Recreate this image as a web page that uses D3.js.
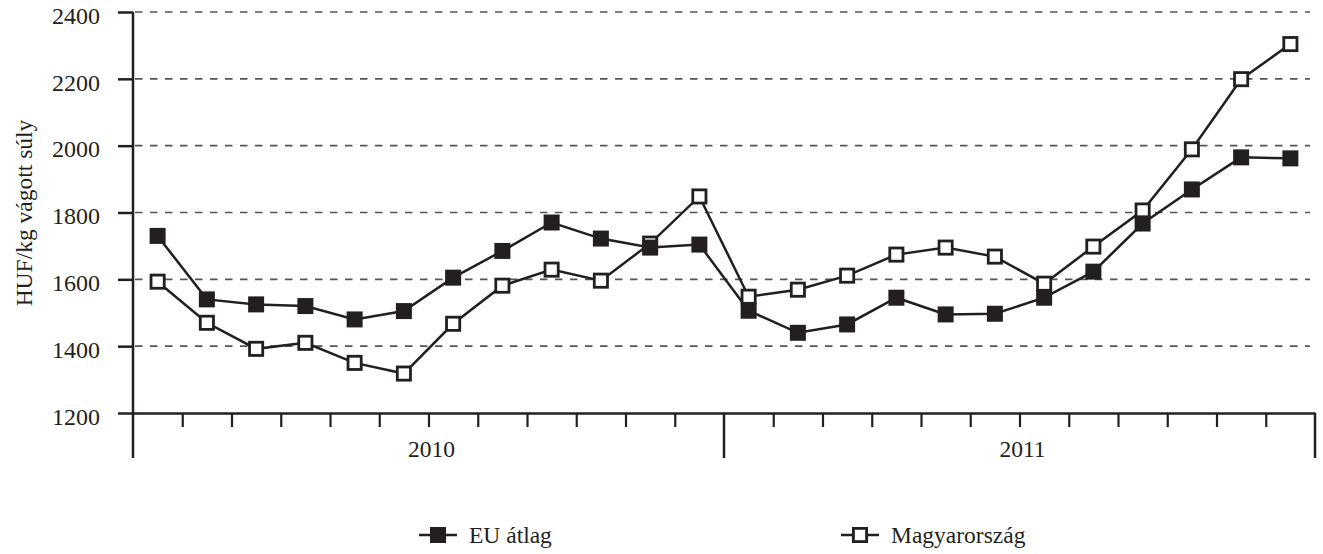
<!DOCTYPE html>
<html>
<head>
<meta charset="utf-8">
<script src="https://cdn.jsdelivr.net/npm/d3@7"></script>
<style>
  body { margin: 0; background: #fff; }
  svg text { font-family: "Liberation Serif", "Times New Roman", serif; fill: #231f20; }
</style>
</head>
<body>
<div id="chart"></div>
<script>
// Data (monthly, 2010-2011)
var years = ["2010", "2011"];
var months = ["01","02","03","04","05","06","07","08","09","10","11","12"];
var euAtlag = [1730, 1540, 1525, 1520, 1480, 1505, 1605, 1685, 1770, 1722, 1695, 1704,
               1506, 1440, 1465, 1545, 1495, 1497, 1545, 1623, 1767, 1869, 1965, 1962];
var magyarorszag = [1593, 1470, 1392, 1410, 1350, 1318, 1467, 1581, 1629, 1596, 1707, 1848,
                    1548, 1569, 1611, 1674, 1695, 1668, 1587, 1698, 1806, 1989, 2199, 2304];
var yTicks = [1200, 1400, 1600, 1800, 2000, 2200, 2400];
var yLabel = "HUF/kg vágott súly";
var seriesNames = ["EU átlag", "Magyarország"];

var width = 1323, height = 554;
var ink = "#231f20";

var svg = d3.select("#chart").append("svg")
    .attr("width", width)
    .attr("height", height);

var n = years.length * months.length;

// x: one band per month, points in band centre
var x = d3.scaleLinear().domain([0, n]).range([133, 1315]);
var y = d3.scaleLinear().domain([1200, 2400]).range([413, 12]);

// dashed gridlines
svg.append("g")
  .selectAll("line")
  .data(yTicks.slice(1))
  .enter().append("line")
    .attr("x1", 135)
    .attr("x2", 1310)
    .attr("y1", function(d) { return y(d); })
    .attr("y2", function(d) { return y(d); })
    .attr("stroke", "#555")
    .attr("stroke-width", 1.6)
    .attr("stroke-dasharray", "7.5,7.5");

// y axis
var yAxis = d3.axisLeft(y)
    .tickValues(yTicks)
    .tickSize(15)
    .tickSizeOuter(0)
    .tickPadding(18)
    .tickFormat(d3.format("d"));

var gy = svg.append("g")
    .attr("transform", "translate(" + x(0) + ",0)")
    .call(yAxis);
gy.select(".domain").remove();
gy.selectAll(".tick line").attr("stroke", ink).attr("stroke-width", 2.5);
gy.selectAll(".tick text")
    .attr("font-size", "24px")
    .attr("dy", "0.47em")
    .style("font-family", "'Liberation Serif', serif")
    .attr("fill", ink);

// vertical axis line (runs down past the x axis like the year separators)
svg.append("line")
    .attr("x1", x(0)).attr("x2", x(0))
    .attr("y1", y(2400)).attr("y2", 458)
    .attr("stroke", ink).attr("stroke-width", 2.5);

// x axis: short month ticks, long year ticks
var monthTicks = d3.range(1, n).filter(function(i) { return i % months.length !== 0; });
var gx = svg.append("g")
    .attr("transform", "translate(0," + y(1200) + ")")
    .call(d3.axisBottom(x).tickValues(monthTicks).tickSize(14).tickSizeOuter(0).tickFormat(""));
gx.select(".domain").attr("stroke", ink).attr("stroke-width", 2.5);
gx.selectAll(".tick line").attr("stroke", ink).attr("stroke-width", 2.2);

svg.append("g")
  .selectAll("line")
  .data(d3.range(1, years.length + 1).map(function(i) { return i * months.length; }))
  .enter().append("line")
    .attr("x1", function(d) { return x(d); })
    .attr("x2", function(d) { return x(d); })
    .attr("y1", y(1200))
    .attr("y2", 458)
    .attr("stroke", ink)
    .attr("stroke-width", 2.5);

// year labels
svg.append("g")
  .selectAll("text")
  .data(years)
  .enter().append("text")
    .attr("x", function(d, i) { return x(i * months.length + months.length / 2) + 3; })
    .attr("y", 457)
    .attr("text-anchor", "middle")
    .attr("font-size", "23.5px")
    .text(function(d) { return d; });

// y label
svg.append("text")
    .attr("transform", "translate(32," + 213 + ") rotate(-90)")
    .attr("text-anchor", "middle")
    .attr("font-size", "23.5px")
    .text(yLabel);

var line = d3.line()
    .x(function(d, i) { return x(i + 0.5); })
    .y(function(d) { return y(d); });

var markerSize = 16;

function drawSeries(values, filled) {
  var g = svg.append("g");
  g.append("path")
    .datum(values)
    .attr("fill", "none")
    .attr("stroke", ink)
    .attr("stroke-width", 2.5)
    .attr("d", line);
  var s = filled ? markerSize : markerSize - 2.8;
  g.selectAll("rect")
    .data(values)
    .enter().append("rect")
      .attr("x", function(d, i) { return x(i + 0.5) - s / 2; })
      .attr("y", function(d) { return y(d) - s / 2; })
      .attr("width", s)
      .attr("height", s)
      .attr("fill", filled ? ink : "#fff")
      .attr("stroke", filled ? "none" : ink)
      .attr("stroke-width", 2.8);
}

drawSeries(magyarorszag, false);
drawSeries(euAtlag, true);

// legend
var legendItems = [
  { name: seriesNames[0], filled: true, cx: 438 },
  { name: seriesNames[1], filled: false, cx: 860 }
];
var ly = 535;
var lg = svg.append("g")
  .selectAll("g")
  .data(legendItems)
  .enter().append("g");

lg.append("line")
    .attr("x1", function(d) { return d.cx - 19; })
    .attr("x2", function(d) { return d.cx + 19; })
    .attr("y1", ly).attr("y2", ly)
    .attr("stroke", ink).attr("stroke-width", 2.5);

lg.append("rect")
    .attr("x", function(d) { return d.cx - (d.filled ? markerSize : markerSize - 2.8) / 2; })
    .attr("y", function(d) { return ly - (d.filled ? markerSize : markerSize - 2.8) / 2; })
    .attr("width", function(d) { return d.filled ? markerSize : markerSize - 2.8; })
    .attr("height", function(d) { return d.filled ? markerSize : markerSize - 2.8; })
    .attr("fill", function(d) { return d.filled ? ink : "#fff"; })
    .attr("stroke", function(d) { return d.filled ? "none" : ink; })
    .attr("stroke-width", 2.8);

lg.append("text")
    .attr("x", function(d) { return d.cx + 31; })
    .attr("y", ly + 8)
    .attr("font-size", "23.5px")
    .text(function(d) { return d.name; });
</script>
</body>
</html>
